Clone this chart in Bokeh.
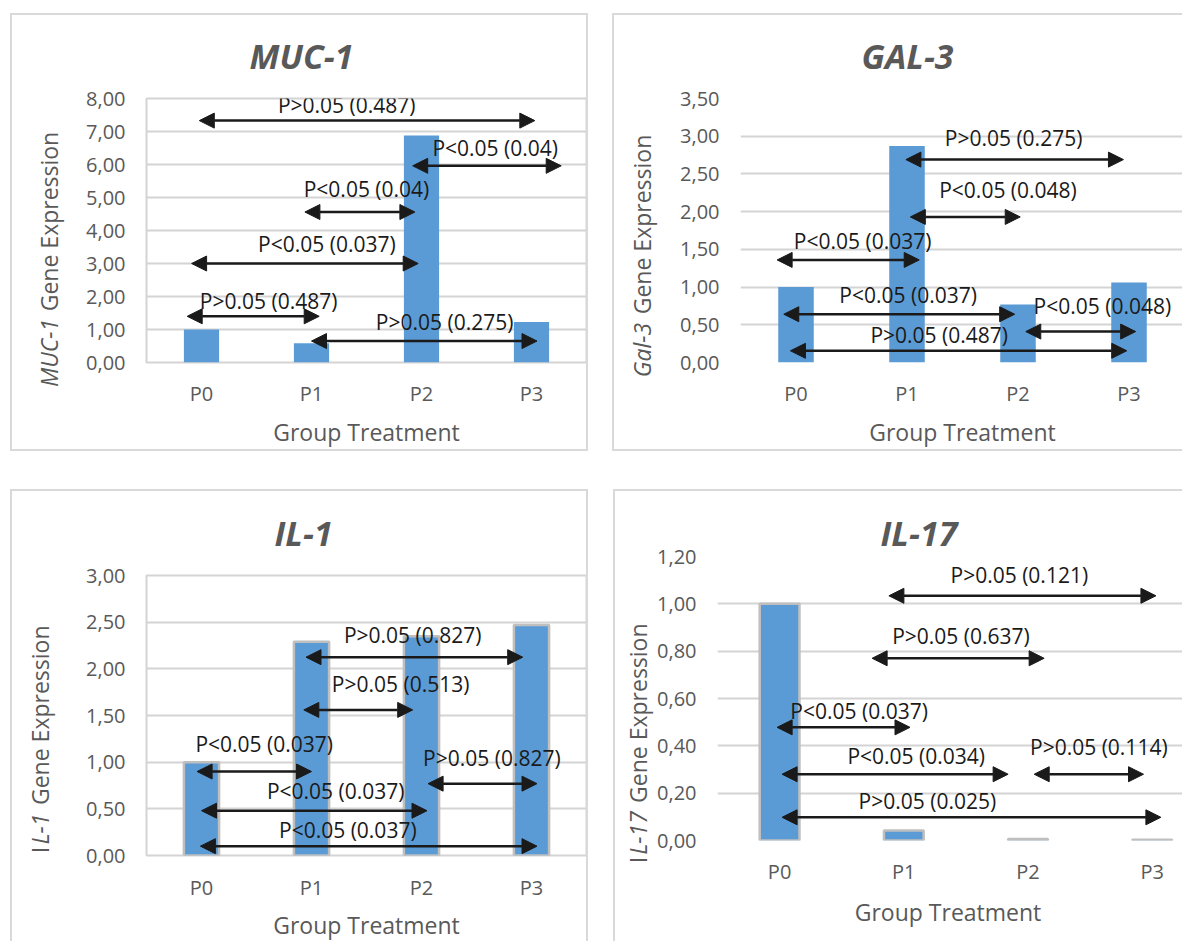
from bokeh.plotting import figure
from bokeh.models import ColumnDataSource, Arrow, NormalHead, FixedTicker, Range1d, LinearAxis
from bokeh.layouts import row, column
from bokeh.embed import file_html
from bokeh.resources import INLINE
from bokeh.core.properties import value

# ---------------- data ----------------
groups = ["P0", "P1", "P2", "P3"]

muc1_values = [1.00, 0.58, 6.88, 1.23]
gal3_values = [1.00, 2.87, 0.77, 1.06]
il1_values = [1.00, 2.29, 2.35, 2.47]
il17_values = [1.00, 0.042, 0.006, 0.003]

muc1_ticks = [0, 1, 2, 3, 4, 5, 6, 7, 8]
muc1_tick_labels = ["0,00", "1,00", "2,00", "3,00", "4,00", "5,00", "6,00", "7,00", "8,00"]
gal3_ticks = [0, 0.5, 1, 1.5, 2, 2.5, 3, 3.5]
gal3_tick_labels = ["0,00", "0,50", "1,00", "1,50", "2,00", "2,50", "3,00", "3,50"]
il1_ticks = [0, 0.5, 1, 1.5, 2, 2.5, 3]
il1_tick_labels = ["0,00", "0,50", "1,00", "1,50", "2,00", "2,50", "3,00"]
il17_ticks = [0, 0.2, 0.4, 0.6, 0.8, 1.0, 1.2]
il17_tick_labels = ["0,00", "0,20", "0,40", "0,60", "0,80", "1,00", "1,20"]

# comparison arrows (group-index units on x, expression units on y)
muc1_cmp_labels = ["P>0.05 (0.487)", "P<0.05 (0.04)", "P<0.05 (0.04)",
                   "P<0.05 (0.037)", "P>0.05 (0.487)", "P>0.05 (0.275)"]
muc1_cmp_x0 = [-0.02, 1.92, 0.94, -0.09, -0.13, 1.00]
muc1_cmp_x1 = [3.03, 3.27, 1.94, 1.97, 1.07, 3.05]
muc1_cmp_y = [7.33, 5.96, 4.56, 3.00, 1.40, 0.65]
muc1_cmp_lx = [1.32, 2.67, 1.50, 1.14, 0.61, 2.21]
muc1_cmp_ly = [7.80, 6.49, 5.27, 3.58, 1.87, 1.22]

gal3_cmp_labels = ["P>0.05 (0.275)", "P<0.05 (0.048)", "P<0.05 (0.037)",
                   "P<0.05 (0.037)", "P<0.05 (0.048)", "P>0.05 (0.487)"]
gal3_cmp_x0 = [0.99, 1.03, -0.17, -0.11, 2.07, -0.05]
gal3_cmp_x1 = [2.95, 2.02, 1.11, 1.97, 3.06, 2.98]
gal3_cmp_y = [2.69, 1.93, 1.36, 0.64, 0.41, 0.155]
gal3_cmp_lx = [1.96, 1.91, 0.60, 1.01, 2.76, 1.29]
gal3_cmp_ly = [2.97, 2.29, 1.61, 0.895, 0.75, 0.36]

il1_cmp_labels = ["P>0.05 (0.827)", "P>0.05 (0.513)", "P<0.05 (0.037)",
                  "P>0.05 (0.827)", "P<0.05 (0.037)", "P<0.05 (0.037)"]
il1_cmp_x0 = [0.95, 0.93, -0.04, 2.06, 0.00, -0.01]
il1_cmp_x1 = [2.92, 1.92, 1.00, 3.05, 2.05, 3.05]
il1_cmp_y = [2.125, 1.56, 0.90, 0.77, 0.48, 0.10]
il1_cmp_lx = [1.92, 1.81, 0.57, 2.64, 1.22, 1.33]
il1_cmp_ly = [2.36, 1.84, 1.20, 1.05, 0.69, 0.27]

il17_cmp_labels = ["P>0.05 (0.121)", "P>0.05 (0.637)", "P<0.05 (0.037)",
                   "P<0.05 (0.034)", "P>0.05 (0.114)", "P>0.05 (0.025)"]
il17_cmp_x0 = [0.88, 0.745, -0.02, 0.02, 2.05, 0.02]
il17_cmp_x1 = [3.03, 2.13, 1.05, 1.84, 2.93, 3.07]
il17_cmp_y = [1.034, 0.77, 0.478, 0.28, 0.28, 0.098]
il17_cmp_lx = [1.93, 1.46, 0.64, 1.10, 2.57, 1.19]
il17_cmp_ly = [1.12, 0.862, 0.546, 0.355, 0.397, 0.165]

# ---------------- styling ----------------
FONT = "Open Sans"
GRAY = "#595959"
GRID = "#d4d4d4"
BAR = "#5b9bd5"
INK = "#1a1a1a"
NBSP = "\u00a0"


def make_panel(title, values, ticks, tick_labels, cmp, ylab_normal, ylab_italic, xlabel,
               width, height, mb, x_end, y_end, title_offset, title_standoff, title_valign,
               ya_standoff, outline, bar_line, styles, margin,
               xl_standoff, xa_standoff):
    p = figure(width=width, height=height,
               x_range=Range1d(-0.5, x_end), y_range=Range1d(0, y_end),
               output_backend="svg", toolbar_location=None,
               min_border_left=mb[0], min_border_right=mb[1],
               min_border_top=mb[2], min_border_bottom=mb[3])
    p.styles = styles
    p.margin = margin
    p.background_fill_color = "white"
    p.border_fill_color = "white"
    if outline:
        p.outline_line_color = GRID
        p.outline_line_width = 2
    else:
        p.outline_line_color = None

    # title
    p.title.text = title
    p.title.text_font = FONT
    p.title.text_font_size = "34px"
    p.title.text_font_style = "bold italic"
    p.title.text_color = GRAY
    p.title.align = "left"
    p.title.vertical_align = title_valign
    p.title.offset = title_offset
    p.title.standoff = title_standoff

    # axes
    p.xaxis.ticker = FixedTicker(ticks=list(range(len(groups))))
    p.xaxis.major_label_overrides = {i: g for i, g in enumerate(groups)}
    p.yaxis.ticker = FixedTicker(ticks=ticks)
    p.yaxis.major_label_overrides = {t: l for t, l in zip(ticks, tick_labels)}
    for ax in (p.xaxis[0], p.yaxis[0]):
        ax.axis_line_color = None
        ax.major_tick_line_color = None
        ax.minor_tick_line_color = None
        ax.major_tick_out = 0
        ax.major_tick_in = 0
        ax.minor_tick_out = 0
        ax.minor_tick_in = 0
        ax.major_label_text_font = FONT
        ax.major_label_text_font_size = "20px"
        ax.major_label_text_color = GRAY
        ax.axis_label_text_font = FONT
        ax.axis_label_text_font_size = "23px"
        ax.axis_label_text_color = GRAY
        ax.axis_label_text_font_style = "normal"
    p.xaxis.major_label_standoff = xl_standoff
    p.xaxis.axis_label = xlabel
    p.xaxis.axis_label_standoff = xa_standoff
    p.yaxis.major_label_standoff = 21
    p.yaxis.axis_label = ylab_normal
    p.yaxis.axis_label_standoff = ya_standoff

    # italic gene-name part of the y label, overlaid on the same label column
    gene_axis = LinearAxis(ticker=FixedTicker(ticks=[]), axis_label=ylab_italic,
                           axis_line_color=None, major_tick_line_color=None,
                           minor_tick_line_color=None, major_tick_out=0, major_tick_in=0,
                           minor_tick_out=0, minor_tick_in=0, major_label_standoff=0,
                           axis_label_standoff=-34,
                           axis_label_text_font=FONT, axis_label_text_font_size="23px",
                           axis_label_text_color=GRAY, axis_label_text_font_style="italic")
    p.add_layout(gene_axis, "left")

    p.xgrid.visible = False
    p.ygrid.grid_line_color = GRID
    p.ygrid.grid_line_width = 2

    # bars
    src = ColumnDataSource(dict(x=list(range(len(groups))), top=values))
    p.vbar(x="x", top="top", width=0.32, source=src, fill_color=BAR,
           line_color=bar_line if bar_line else None, line_width=2.5)

    # comparison arrows and labels
    labels, x0, x1, y, lx, ly = cmp
    asrc = ColumnDataSource(dict(x0=x0, x1=x1, y=y))
    head = dict(size=15, fill_color=INK, line_color=INK, line_width=1)
    p.add_layout(Arrow(start=NormalHead(**head), end=NormalHead(**head),
                       x_start="x0", y_start="y", x_end="x1", y_end="y",
                       source=asrc, line_color=INK, line_width=2.5))
    tsrc = ColumnDataSource(dict(x=lx, y=ly, t=labels))
    p.text(x="x", y="y", text="t", source=tsrc, text_font=value(FONT),
           text_font_size="21px", text_color=INK,
           text_align="center", text_baseline="middle")
    return p


BORDER = "2px solid #d9d9d9"

p1 = make_panel("MUC-1", muc1_values, muc1_ticks, muc1_tick_labels,
                (muc1_cmp_labels, muc1_cmp_x0, muc1_cmp_x1, muc1_cmp_y, muc1_cmp_lx, muc1_cmp_ly),
                NBSP * 3 + "Gene Expression", "MUC-1" + NBSP * 41, "Group Treatment",
                width=578, height=438, mb=(134, 4, 83, 91), x_end=3.5, y_end=8,
                title_offset=103, title_standoff=35, title_valign="top", ya_standoff=18,
                outline=True, bar_line=None,
                styles={"border": BORDER}, margin=(13, 0, 0, 10),
                xl_standoff=17, xa_standoff=6)

p2 = make_panel("GAL-3", gal3_values, gal3_ticks, gal3_tick_labels,
                (gal3_cmp_labels, gal3_cmp_x0, gal3_cmp_x1, gal3_cmp_y, gal3_cmp_lx, gal3_cmp_ly),
                NBSP * 2 + "Gene Expression", "Gal-3" + NBSP * 40, "Group Treatment",
                width=570, height=438, mb=(126, 0, 83, 91), x_end=3.5, y_end=3.5,
                title_offset=121, title_standoff=35, title_valign="top", ya_standoff=19,
                outline=False, bar_line=None,
                styles={"border": BORDER, "border-right": "none"}, margin=(13, 0, 0, 24),
                xl_standoff=17, xa_standoff=6)

p3 = make_panel("IL-1", il1_values, il1_ticks, il1_tick_labels,
                (il1_cmp_labels, il1_cmp_x0, il1_cmp_x1, il1_cmp_y, il1_cmp_lx, il1_cmp_ly),
                "I" + NBSP * 7 + "Gene Expression" + NBSP * 8, "L-1" + NBSP * 38,
                "Group Treatment",
                width=578, height=452, mb=(134, 4, 84, 85), x_end=3.5, y_end=3,
                title_offset=128, title_standoff=35, title_valign="top", ya_standoff=27,
                outline=True, bar_line="#bfbfbf",
                styles={"border": BORDER, "border-bottom": "none"}, margin=(38, 0, 0, 10),
                xl_standoff=18, xa_standoff=5)

p4 = make_panel("IL-17", il17_values, il17_ticks, il17_tick_labels,
                (il17_cmp_labels, il17_cmp_x0, il17_cmp_x1, il17_cmp_y, il17_cmp_lx, il17_cmp_ly),
                "I" + NBSP * 9 + "Gene Expression" + NBSP * 15, "L-17" + NBSP * 45,
                "Group  Treatment",
                width=569, height=452, mb=(102, 0, 65, 103), x_end=3.26, y_end=1.2,
                title_offset=163, title_standoff=1, title_valign="bottom", ya_standoff=0,
                outline=False, bar_line="#bfbfbf",
                styles={"border": BORDER, "border-right": "none", "border-bottom": "none"},
                margin=(38, 0, 0, 25),
                xl_standoff=17, xa_standoff=8)

# each panel in its own column so the row does not align the plot frames
layout = column(row(column(p1), column(p2)), row(column(p3), column(p4)))
open("out.html", "w").write(file_html(layout, INLINE))
